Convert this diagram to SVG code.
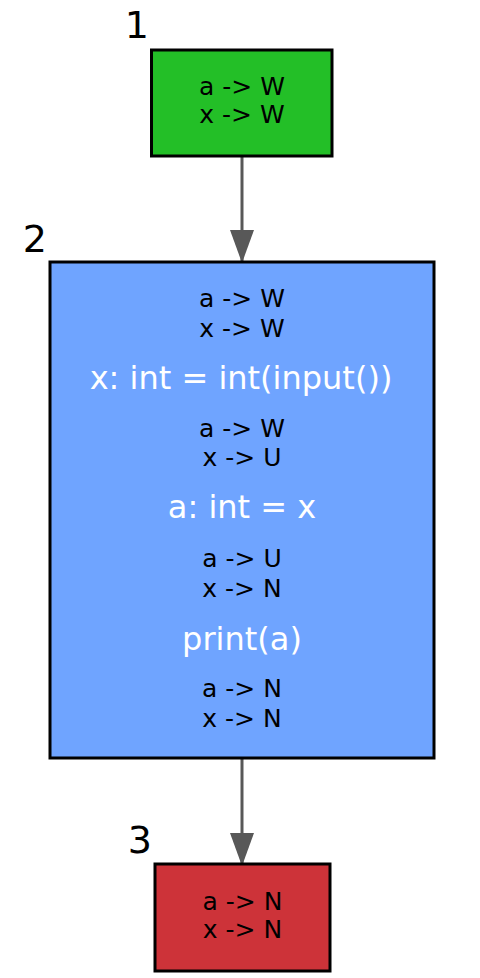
<svg xmlns="http://www.w3.org/2000/svg" width="480" height="978" viewBox="0 0 480 978">
<style>
.box{stroke:#000;stroke-width:3}
.s{font-family:"DejaVu Sans",sans-serif;font-size:25px;fill:#000;text-anchor:middle}
.c{font-family:"DejaVu Sans",sans-serif;font-size:32px;fill:#fff;text-anchor:middle}
.n{font-family:"DejaVu Sans",sans-serif;font-size:38px;fill:#000;text-anchor:end}
.e{stroke:#585858;stroke-width:3;fill:none}
</style>
<defs>
<marker id="arr" markerUnits="userSpaceOnUse" markerWidth="33" markerHeight="24" refX="33" refY="12" viewBox="0 0 33 24" orient="auto">
<path d="M0,0 L33,12 L0,24 Z" fill="#585858"/>
</marker>
</defs>
<g id="connectors">
<path class="e" d="M242,157 L242,263" marker-end="url(#arr)"/>
<path class="e" d="M242,758 L242,866" marker-end="url(#arr)"/>
</g>
<g id="node1">
<rect class="box" x="151.5" y="50" width="180.5" height="106" fill="#23bf27"/>
<text class="n" x="149" y="38">1</text>
<text class="s" x="242" y="95">a -&gt; W</text>
<text class="s" x="242" y="123">x -&gt; W</text>
</g>
<g id="node2">
<rect class="box" x="50" y="262" width="384" height="496" fill="#6fa4ff"/>
<text class="n" x="47" y="252">2</text>
<text class="s" x="242" y="307">a -&gt; W</text>
<text class="s" x="242" y="337">x -&gt; W</text>
<text class="c" x="241" y="389">x: int = int(input())</text>
<text class="s" x="242" y="437">a -&gt; W</text>
<text class="s" x="242" y="466">x -&gt; U</text>
<text class="c" x="242" y="518">a: int = x</text>
<text class="s" x="242" y="567">a -&gt; U</text>
<text class="s" x="242" y="597">x -&gt; N</text>
<text class="c" x="242" y="650">print(a)</text>
<text class="s" x="242" y="697">a -&gt; N</text>
<text class="s" x="242" y="727">x -&gt; N</text>
</g>
<g id="node3">
<rect class="box" x="155" y="864" width="175" height="107" fill="#cd3339"/>
<text class="n" x="152" y="853">3</text>
<text class="s" x="242.5" y="910">a -&gt; N</text>
<text class="s" x="242.5" y="938">x -&gt; N</text>
</g>
</svg>
